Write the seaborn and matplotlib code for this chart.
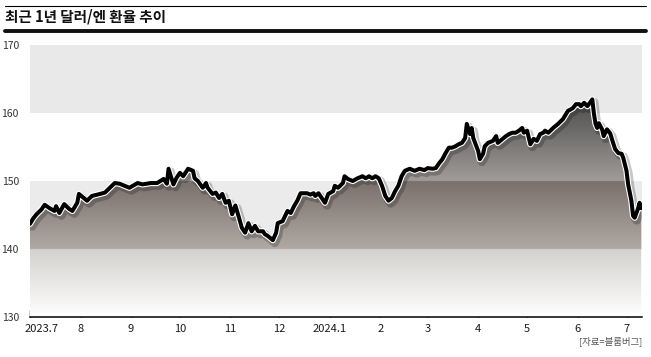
import numpy as np
import pandas as pd
import matplotlib
matplotlib.use("Agg")
import matplotlib.pyplot as plt
import matplotlib.dates as mdates
import matplotlib.patheffects as pe
import matplotlib.transforms as mtransforms
from matplotlib.patches import PathPatch
from matplotlib.lines import Line2D
import seaborn as sns

# USD/JPY
dates = ['2023-07-01', '2023-07-03', '2023-07-05', '2023-07-08', '2023-07-10', '2023-07-13',
         '2023-07-16', '2023-07-17', '2023-07-19', '2023-07-22', '2023-07-25', '2023-07-27',
         '2023-07-30', '2023-07-31', '2023-08-03', '2023-08-05', '2023-08-08', '2023-08-13',
         '2023-08-16', '2023-08-19', '2023-08-22', '2023-08-25', '2023-08-28', '2023-08-31',
         '2023-09-05', '2023-09-08', '2023-09-13', '2023-09-17', '2023-09-21', '2023-09-23',
         '2023-09-24', '2023-09-27', '2023-09-29', '2023-10-01', '2023-10-03', '2023-10-06',
         '2023-10-09', '2023-10-10', '2023-10-12', '2023-10-15', '2023-10-17', '2023-10-18',
         '2023-10-21', '2023-10-23', '2023-10-25', '2023-10-27', '2023-10-29', '2023-10-31',
         '2023-11-02', '2023-11-04', '2023-11-06', '2023-11-08', '2023-11-10', '2023-11-12',
         '2023-11-14', '2023-11-16', '2023-11-18', '2023-11-21', '2023-11-22', '2023-11-24',
         '2023-11-27', '2023-11-29', '2023-11-30', '2023-12-03', '2023-12-05', '2023-12-06',
         '2023-12-08', '2023-12-10', '2023-12-12', '2023-12-14', '2023-12-16', '2023-12-18',
         '2023-12-20', '2023-12-22', '2023-12-23', '2023-12-25', '2023-12-27', '2023-12-29',
         '2023-12-31', '2024-01-03', '2024-01-04', '2024-01-06', '2024-01-09', '2024-01-10',
         '2024-01-12', '2024-01-15', '2024-01-18', '2024-01-21', '2024-01-23', '2024-01-25',
         '2024-01-27', '2024-01-29', '2024-01-31', '2024-02-02', '2024-02-04', '2024-02-06',
         '2024-02-08', '2024-02-10', '2024-02-12', '2024-02-14', '2024-02-16', '2024-02-19',
         '2024-02-22', '2024-02-25', '2024-02-28', '2024-03-01', '2024-03-04', '2024-03-06',
         '2024-03-08', '2024-03-10', '2024-03-12', '2024-03-14', '2024-03-16', '2024-03-18',
         '2024-03-20', '2024-03-22', '2024-03-24', '2024-03-25', '2024-03-27', '2024-03-28',
         '2024-03-29', '2024-04-01', '2024-04-02', '2024-04-04', '2024-04-05', '2024-04-07',
         '2024-04-10', '2024-04-12', '2024-04-13', '2024-04-16', '2024-04-18', '2024-04-20',
         '2024-04-22', '2024-04-24', '2024-04-26', '2024-04-28', '2024-04-29', '2024-05-01',
         '2024-05-03', '2024-05-05', '2024-05-07', '2024-05-09', '2024-05-11', '2024-05-12',
         '2024-05-14', '2024-05-17', '2024-05-20', '2024-05-23', '2024-05-25', '2024-05-26',
         '2024-05-29', '2024-05-31', '2024-06-02', '2024-06-03', '2024-06-05', '2024-06-07',
         '2024-06-10', '2024-06-11', '2024-06-12', '2024-06-13', '2024-06-14', '2024-06-16',
         '2024-06-17', '2024-06-19', '2024-06-21', '2024-06-22', '2024-06-24', '2024-06-26',
         '2024-06-28', '2024-06-29', '2024-07-01', '2024-07-02', '2024-07-04', '2024-07-05',
         '2024-07-06', '2024-07-08', '2024-07-09', '2024-07-10']
rate = [143.7, 144.5, 145.1, 145.8, 146.5, 146.0,
        145.6, 146.3, 145.3, 146.6, 145.9, 145.6,
        146.8, 148.1, 147.5, 147.1, 147.8, 148.1,
        148.3, 149.0, 149.7, 149.6, 149.3, 149.0,
        149.7, 149.5, 149.7, 149.7, 150.3, 149.6,
        151.8, 149.5, 150.5, 151.2, 150.7, 151.8,
        151.5, 150.4, 150.0, 149.0, 149.7, 149.0,
        148.1, 148.3, 147.5, 148.1, 146.8, 147.1,
        145.1, 146.4, 144.8, 143.1, 142.4, 143.8,
        142.6, 143.4, 142.6, 142.6, 142.2, 141.9,
        141.3, 142.4, 143.8, 144.1, 145.1, 145.6,
        145.3, 146.3, 147.1, 148.2, 148.2, 148.2,
        148.0, 148.2, 147.8, 148.2, 147.5, 146.8,
        148.1, 148.5, 149.3, 149.0, 149.7, 150.7,
        150.3, 150.0, 150.4, 150.7, 150.4, 150.7,
        150.4, 150.7, 150.4, 149.3, 147.8, 147.1,
        147.5, 148.5, 149.3, 150.7, 151.5, 151.8,
        151.5, 151.8, 151.6, 151.9, 151.8, 151.9,
        152.6, 153.2, 154.1, 154.9, 154.9, 155.1,
        155.4, 155.6, 156.3, 158.4, 156.9, 157.8,
        156.3, 154.4, 153.2, 154.0, 155.1, 155.6,
        155.9, 156.6, 155.6, 156.2, 156.6, 156.9,
        157.1, 157.1, 157.4, 157.8, 157.1, 157.4,
        155.4, 156.2, 155.9, 156.9, 157.1, 157.4,
        157.1, 157.8, 158.4, 159.1, 159.9, 160.3,
        160.7, 161.3, 161.3, 161.0, 161.5, 161.0,
        162.0, 159.9, 158.4, 157.8, 158.5, 157.6,
        156.6, 157.6, 157.0, 156.2, 154.7, 154.1,
        154.0, 153.4, 151.5, 149.5, 147.1, 144.9,
        144.6, 145.9, 146.8, 146.0]

tick_dates = ['2023-07-01', '2023-08-01', '2023-09-01', '2023-10-01', '2023-11-01', '2023-12-01',
              '2024-01-01', '2024-02-01', '2024-03-01', '2024-04-01', '2024-05-01', '2024-06-01',
              '2024-07-01']
tick_labels = ['2023.7', '8', '9', '10', '11', '12', '2024.1', '2', '3', '4', '5', '6', '7']
y_ticks = [130, 140, 150, 160, 170]

title = '최근 1년 달러/엔 환율 추이'
source = '[자료=블룸버그]'

df = pd.DataFrame({'date': pd.to_datetime(dates), 'rate': rate})

sns.set_theme(style='white')
plt.rcParams['font.family'] = ['Noto Sans CJK KR', 'DejaVu Sans']

fig = plt.figure(figsize=(6.51, 3.57), dpi=100)
ax = fig.add_axes([30/651, 40/357, 612/651, 272/357])

x0 = pd.Timestamp('2023-07-01')
x1 = pd.Timestamp('2024-07-10 12:00')
ax.set_xlim(x0, x1)
ax.set_ylim(130, 170)

# background bands
ax.axhspan(160, 170, color='#e9e9e9', lw=0, zorder=0)
ax.axhspan(140, 150, color='#ebebeb', lw=0, zorder=0)

# gradient under the line, stepped at the band edges
def grad(v):
    def mix(a, b, t):
        t = np.clip(t, 0, 1)
        return np.array(a) + (np.array(b) - np.array(a)) * t
    if v >= 150:
        return mix((0.63, 0.61, 0.60), (0.30, 0.30, 0.30), (v - 150) / 12)
    if v >= 140:
        return mix((0.69, 0.66, 0.64), (0.48, 0.44, 0.42), (v - 140) / 10)
    return mix((1.0, 1.0, 1.0), (0.83, 0.82, 0.81), (v - 130) / 10)

vs = np.linspace(170, 130, 800)
img = np.array([grad(v) for v in vs]).reshape(-1, 1, 3)
im = ax.imshow(img, aspect='auto', interpolation='bilinear',
               extent=[mdates.date2num(x0), mdates.date2num(x1), 130, 170], zorder=1)
poly = ax.fill_between(df['date'], df['rate'], 130, color='none', lw=0)
clip = PathPatch(poly.get_paths()[0], transform=ax.transData)
im.set_clip_path(clip)

sns.lineplot(data=df, x='date', y='rate', ax=ax, color='black', lw=2.9, zorder=3,
             path_effects=[pe.SimpleLineShadow(offset=(1.5, -2), shadow_color='black', alpha=0.22, linewidth=6),
                           pe.Stroke(linewidth=4.5, foreground='white'),
                           pe.Normal()])
ax.set_xlabel('')
ax.set_ylabel('')

ax.set_xticks(pd.to_datetime(tick_dates))
ax.set_xticklabels(tick_labels)
ax.set_yticks(y_ticks)
ax.tick_params(axis='x', direction='in', length=5, width=1, color='black', pad=5,
               labelsize=8, labelcolor='#1a1a1a', bottom=True)
ax.tick_params(axis='y', length=0, pad=8, labelsize=7.5, labelcolor='#333333')
first = ax.get_xticklabels()[0]
first.set_horizontalalignment('left')
first.set_transform(first.get_transform() + mtransforms.ScaledTranslation(-5/100, 0, fig.dpi_scale_trans))
for s in ['top', 'right', 'left']:
    ax.spines[s].set_visible(False)
ax.spines['bottom'].set_color('black')
ax.spines['bottom'].set_linewidth(1.1)
ax.spines['bottom'].set_zorder(4)

# header decorations
fig.add_artist(Line2D([5/651, 646/651], [1 - 6/357] * 2, color='black', lw=0.8))
fig.add_artist(Line2D([5/651, 646/651], [1 - 31/357] * 2, color='#111111', lw=2.8))
fig.text(5/651, 1 - 17/357, title, fontsize=10.5, fontweight='bold', color='#111111',
         ha='left', va='center')
fig.text(642/651, 1 - 341/357, source, fontsize=6.8, color='#555555', ha='right', va='center')

fig.savefig('out.png', dpi=100)
